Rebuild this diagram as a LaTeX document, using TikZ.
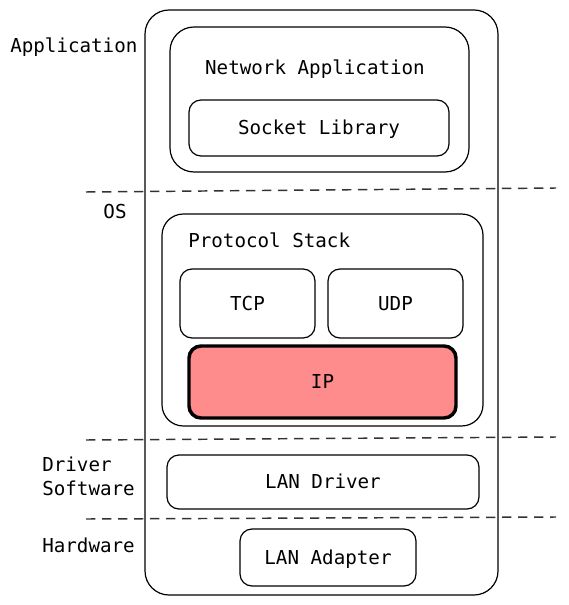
\documentclass[tikz,border=0pt]{standalone}
\usepackage{fontspec}
\setmonofont{DejaVu Sans Mono}
\usepackage{tikz}
\usetikzlibrary{positioning}
\definecolor{IPRed}{RGB}{255,140,140}
\definecolor{SepGray}{RGB}{50,50,50}

\begin{document}
\begin{tikzpicture}[x=0.75pt,y=-0.75pt,
  font=\ttfamily\fontsize{14.4}{17}\selectfont,
  box/.style={draw,rounded corners=9pt,line width=0.9pt,inner sep=0pt,text height=1em,text depth=0pt},
  bigbox/.style={box,rounded corners=18pt},
  sep/.style={SepGray,line width=1.1pt,dash pattern=on 7pt off 5pt},
  lbl/.style={inner sep=0pt,text height=1em,text depth=0pt}]
  \useasboundingbox (0,0) rectangle (568,605);

  \node[bigbox,minimum width=353*0.75pt,minimum height=585*0.75pt] (host) at (321.5,302.5) {};
  \node[bigbox,minimum width=299*0.75pt,minimum height=145*0.75pt] (netapp) at (319.5,99.5) {};
  \node[lbl] (netapptxt) at (315,68) {Network Application};
  \node[box,minimum width=260*0.75pt,minimum height=56*0.75pt] (socket) at (319,128) {Socket Library};

  \node[bigbox,rounded corners=16pt,minimum width=321*0.75pt,minimum height=212*0.75pt] (stack) at (322.5,320) {};
  \node[lbl,anchor=west] (stacktxt) at (188,241) {Protocol Stack};
  \node[box,minimum width=135*0.75pt,minimum height=69*0.75pt] (tcp) at (247.5,303.5) {TCP};
  \node[box,minimum width=135*0.75pt,minimum height=69*0.75pt] (udp) at (395.5,303.5) {UDP};
  \node[box,fill=IPRed,line width=2.6pt,minimum width=267*0.75pt,minimum height=72*0.75pt] (ip) at (322.5,382) {IP};

  \node[box,minimum width=312*0.75pt,minimum height=54*0.75pt] (landrv) at (323,482) {LAN Driver};
  \node[box,minimum width=176*0.75pt,minimum height=57*0.75pt] (lanadp) at (328,557.5) {LAN Adapter};

  \node[lbl,anchor=west] (applbl) at (10,46) {Application};
  \node[lbl] (oslbl) at (115,212) {OS};
  \node[lbl,anchor=west] (drvlbl) at (42,465) {Driver};
  \node[lbl,anchor=west] (swlbl) at (42,489) {Software};
  \node[lbl,anchor=west] (hwlbl) at (42,546) {Hardware};

  \coordinate (s1l) at (86,192);
  \coordinate (s1r) at (556,188);
  \coordinate (s2l) at (86,440);
  \coordinate (s2r) at (556,437);
  \coordinate (s3l) at (86,519);
  \coordinate (s3r) at (556,517);
  \draw[sep] (s1l) -- (s1r);
  \draw[sep] (s2l) -- (s2r);
  \draw[sep] (s3l) -- (s3r);
\end{tikzpicture}
\end{document}
